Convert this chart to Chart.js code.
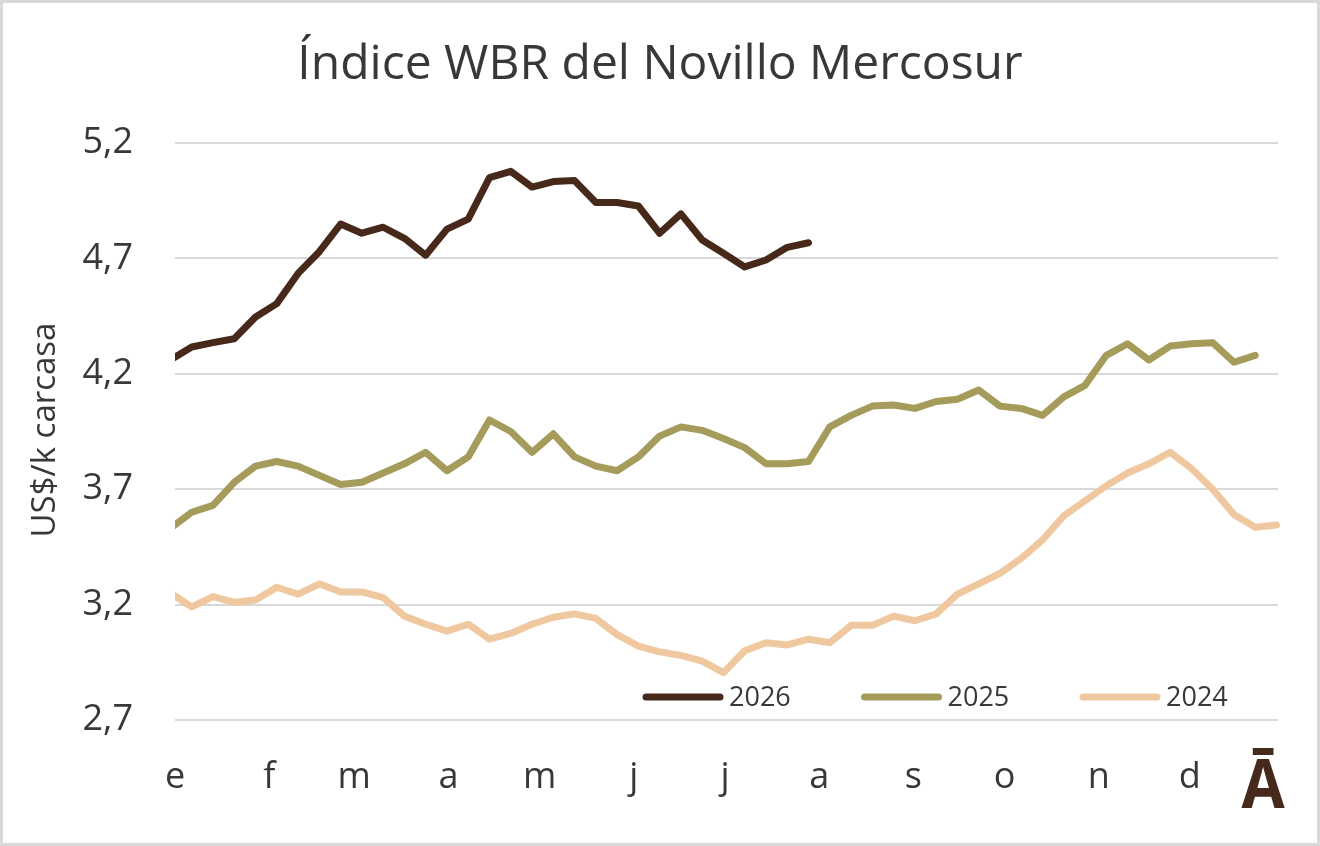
<!DOCTYPE html>
<html>
<head>
<meta charset="utf-8">
<title>Índice WBR del Novillo Mercosur</title>
<script src="https://cdn.jsdelivr.net/npm/chart.js@4.4.0/dist/chart.umd.min.js"></script>
<style>
  html, body { margin: 0; padding: 0; background: #fff; }
  #wrap { width: 1320px; height: 846px; }
</style>
</head>
<body>
<div id="wrap"><canvas id="chartCanvas" width="1320" height="846"></canvas></div>
<script>
// month initials on the x axis and the day of the year each month starts
const months = ['e', 'f', 'm', 'a', 'm', 'j', 'j', 'a', 's', 'o', 'n', 'd'];
const monthStartDays = [0, 31, 59, 90, 120, 151, 181, 212, 243, 273, 304, 334];
const yTicks = [2.7, 3.2, 3.7, 4.2, 4.7, 5.2];

// weekly series; first observation falls just before 1 January (clipped at the axis)
const firstWeekDay = -1.5;
const yearLabels = ['2026', '2025', '2024'];

const wbr2026 = [4.26, 4.316, 4.335, 4.352, 4.446, 4.504, 4.635, 4.729, 4.849, 4.809,
    4.835, 4.787, 4.714, 4.827, 4.870, 5.050, 5.077, 5.009, 5.033, 5.037,
    4.942, 4.942, 4.927, 4.809, 4.893, 4.780, 4.722, 4.663, 4.693, 4.748, 4.768];

const wbr2025 = [3.53, 3.60, 3.63, 3.73, 3.80, 3.82, 3.80, 3.76, 3.72, 3.73,
    3.77, 3.81, 3.86, 3.78, 3.84, 4.00, 3.95, 3.86, 3.94, 3.84,
    3.80, 3.78, 3.84, 3.93, 3.97, 3.955, 3.92, 3.88, 3.81, 3.81,
    3.82, 3.97, 4.02, 4.06, 4.065, 4.05, 4.08, 4.09, 4.13, 4.06,
    4.05, 4.02, 4.10, 4.15, 4.28, 4.33, 4.26, 4.32, 4.33, 4.335, 4.25, 4.28];

const wbr2024 = [3.25, 3.19, 3.235, 3.21, 3.22, 3.275, 3.245, 3.29, 3.255, 3.255,
    3.23, 3.15, 3.115, 3.085, 3.115, 3.05, 3.075, 3.115, 3.145, 3.16,
    3.14, 3.07, 3.02, 2.995, 2.98, 2.955, 2.905, 3.00, 3.035, 3.025,
    3.05, 3.035, 3.11, 3.11, 3.15, 3.13, 3.16, 3.245, 3.29, 3.335,
    3.40, 3.48, 3.585, 3.65, 3.715, 3.77, 3.81, 3.86, 3.79, 3.70,
    3.59, 3.535, 3.545];

const seriesColors = ['#46291a', '#a59b5a', '#f0c8a0'];
const textColor = '#383838';
const fontFamily = '"Open Sans", "Noto Sans", sans-serif';

function toPoints(values) {
    return values.map((v, i) => ({x: firstWeekDay + i * 7, y: v}));
}

const decorations = {
    id: 'decorations',
    beforeDraw(chart) {
        const ctx = chart.ctx;
        ctx.save();
        ctx.fillStyle = '#fff';
        ctx.fillRect(0, 0, chart.width, chart.height);
        ctx.strokeStyle = '#d9d9d9';
        ctx.lineWidth = 3;
        ctx.strokeRect(1.5, 1.5, chart.width - 3, chart.height - 3);
        ctx.restore();
    },
    afterDraw(chart) {
        const ctx = chart.ctx;
        ctx.save();
        ctx.fillStyle = textColor;

        // title
        ctx.font = `48px ${fontFamily}`;
        ctx.textAlign = 'center';
        ctx.textBaseline = 'alphabetic';
        ctx.fillText('Índice WBR del Novillo Mercosur', 660, 79);

        // y axis title
        ctx.save();
        ctx.translate(46, 430);
        ctx.rotate(-Math.PI / 2);
        ctx.font = `33px ${fontFamily}`;
        ctx.textBaseline = 'middle';
        ctx.fillText('US$/k carcasa', 0, 0);
        ctx.restore();

        // legend inside the plot, bottom right
        ctx.font = `27px ${fontFamily}`;
        ctx.textAlign = 'left';
        ctx.textBaseline = 'middle';
        chart.data.datasets.forEach((ds, i) => {
            const x0 = 643 + i * 218.5;
            const y0 = 697;
            ctx.strokeStyle = ds.borderColor;
            ctx.lineWidth = 7;
            ctx.lineCap = 'round';
            ctx.beginPath();
            ctx.moveTo(x0 + 3, y0);
            ctx.lineTo(x0 + 77, y0);
            ctx.stroke();
            ctx.fillStyle = textColor;
            ctx.fillText(ds.label, x0 + 86, y0 + 1);
        });

        // logo mark
        ctx.save();
        ctx.fillStyle = '#46291a';
        ctx.font = `bold 68px ${fontFamily}`;
        ctx.textAlign = 'center';
        ctx.textBaseline = 'alphabetic';
        ctx.translate(1263, 808);
        ctx.scale(0.92, 1);
        ctx.fillText('Ā', 0, 0);
        ctx.restore();

        ctx.restore();
    }
};

new Chart(document.getElementById('chartCanvas').getContext('2d'), {
    type: 'line',
    data: {
        datasets: [wbr2026, wbr2025, wbr2024].map((values, i) => ({
            label: yearLabels[i],
            data: toPoints(values),
            borderColor: seriesColors[i],
            backgroundColor: seriesColors[i],
            borderWidth: 7,
            pointRadius: 0,
            tension: 0,
            borderCapStyle: 'round',
            borderJoinStyle: 'round',
            clip: {left: 0, right: 4, top: 4, bottom: 4}
        }))
    },
    options: {
        responsive: false,
        animation: false,
        devicePixelRatio: 1,
        layout: {padding: {top: 143, right: 42, bottom: 0, left: 0}},
        plugins: {
            legend: {display: false},
            title: {display: false},
            tooltip: {enabled: false}
        },
        scales: {
            x: {
                type: 'linear',
                min: 0,
                max: 363,
                grid: {display: false, drawTicks: false},
                border: {display: false},
                afterBuildTicks: scale => {
                    scale.ticks = monthStartDays.map(v => ({value: v}));
                },
                afterFit: scale => { scale.height = 126; },
                ticks: {
                    autoSkip: false,
                    maxRotation: 0,
                    padding: 36,
                    color: textColor,
                    font: {family: fontFamily, size: 36},
                    callback: (value, index) => months[index]
                }
            },
            y: {
                min: 2.7,
                max: 5.2,
                grid: {color: '#d9d9d9', lineWidth: 2, drawTicks: false},
                border: {display: false},
                afterBuildTicks: scale => {
                    scale.ticks = yTicks.map(v => ({value: v}));
                },
                afterFit: scale => { scale.width = 175; },
                ticks: {
                    padding: 42,
                    color: textColor,
                    font: {family: fontFamily, size: 36},
                    callback: value => value.toFixed(1).replace('.', ',')
                }
            }
        }
    },
    plugins: [decorations]
});
</script>
</body>
</html>
